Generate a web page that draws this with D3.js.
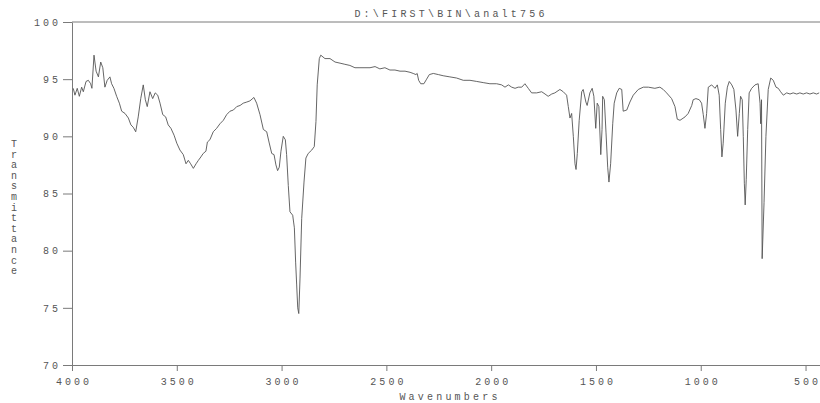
<!DOCTYPE html>
<html>
<head>
<meta charset="utf-8">
<script src="https://cdn.jsdelivr.net/npm/d3@7"></script>
<style>
  body { margin: 0; background: #fff; }
  svg text { font-family: "Liberation Mono", "DejaVu Sans Mono", monospace; fill: #555; }
</style>
</head>
<body>
<div id="wrapper"></div>
<script>
// IR spectrum: wavenumber (cm-1) and % transmittance
const wavenumbers = [
  3994,3986,3975,3965,3954,3946,3933,3922,3911,3905,3895,3885,3874,3863,3853,3843,3832,3819,3811,3800,
  3787,3774,3763,3747,3731,3719,3708,3696,3684,3672,3660,3650,3641,3628,3615,3603,3591,3580,3567,3553,
  3541,3528,3513,3500,3485,3469,3456,3445,3434,3421,3408,3397,3385,3374,3361,3354,
  3342,3326,3310,3294,3278,3262,3246,3230,3214,3198,3183,3166,3151,3132,3119,3103,3087,3071,3060,3047,
  3036,3027,3019,3011,3003,2992,2982,2976,2968,2960,2947,2939,2933,2928,2923,2918,2912,2904,2893,2884,
  2873,2856,2844,2836,2830,2820,2813,2793,2769,2745,2721,2698,2674,
  2650,2626,2602,2578,2554,2531,2507,2483,2459,2435,2411,2387,2372,2359,2353,2346,2336,2321,2308,2295,
  2276,2252,2229,2197,2165,2133,2101,2069,2038,2006,1974,1950,1934,1918,1902,1886,1871,1854,1839,1823,
  1807,1783,1759,1743,1728,1711,1696,1672,1656,1640,
  1632,1624,1616,1608,1600,1595,1589,1580,1568,1561,1548,1542,1529,1518,1510,1501,1494,1486,1477,1471,
  1468,1460,1452,1444,1438,1430,1420,1413,1401,1389,1377,1370,1353,1338,1322,1298,1274,1250,1219,1195,
  1179,1163,1139,1123,1112,1099,1075,1060,1043,1036,1023,1007,
  996,988,980,972,964,948,932,921,912,905,899,893,883,873,864,852,842,832,824,816,
  810,802,797,792,788,783,776,769,757,741,726,717,714,710,707,698,689,678,666,654,
  641,630,619,606,590,574,559,542,527,511,495,479,463,447,435
]
const transmittance = [
  94.2,93.6,94.2,93.5,94.3,93.9,94.8,94.9,94.6,94.2,97.1,95.7,95.2,96.5,96.0,94.3,94.9,95.2,94.6,94.2,
  93.5,92.9,92.2,92.0,91.6,91.0,90.8,90.4,91.7,93.3,94.5,93.2,92.6,93.9,93.3,93.8,93.6,92.9,91.9,91.7,
  91.0,90.7,90.1,89.4,88.8,88.4,87.6,87.9,87.6,87.2,87.6,87.9,88.2,88.5,88.7,89.5,
  89.7,90.4,90.7,91.1,91.4,91.9,92.2,92.3,92.6,92.7,92.9,93.0,93.1,93.4,92.9,91.9,90.6,90.4,89.5,88.5,
  88.4,87.5,87.0,87.3,88.7,90.0,89.7,88.4,85.7,83.4,83.1,82.0,79.0,77.0,75.0,74.5,77.6,82.8,86.0,88.1,
  88.5,88.8,89.1,91.3,94.5,96.8,97.1,96.8,96.8,96.5,96.4,96.3,96.2,
  96.0,96.0,96.0,96.0,96.1,95.9,96.0,95.8,95.8,95.7,95.7,95.6,95.5,95.4,95.5,94.9,94.6,94.6,95.0,95.4,
  95.5,95.4,95.3,95.2,95.1,94.9,94.9,94.8,94.7,94.6,94.6,94.5,94.3,94.5,94.3,94.2,94.3,94.3,94.6,94.2,
  93.8,93.8,93.9,93.7,93.5,93.7,93.8,94.1,93.9,93.6,
  92.6,91.6,92.0,90.0,87.6,87.1,88.5,91.4,93.9,94.1,93.0,92.7,93.8,94.2,93.5,90.7,92.9,92.6,88.4,90.6,
  93.5,93.2,90.3,87.3,86.0,87.6,91.1,92.9,93.8,94.2,94.1,92.2,92.3,93.0,93.6,94.1,94.3,94.3,94.2,94.3,
  94.1,93.8,93.3,92.6,91.5,91.4,91.7,92.0,92.7,93.2,93.3,93.2,
  92.9,91.9,90.7,92.0,94.3,94.5,94.2,94.5,93.6,90.6,88.2,89.4,92.9,94.3,94.8,94.5,94.1,92.3,90.0,92.0,
  93.5,93.2,90.0,85.9,84.0,86.2,90.6,93.8,94.2,94.5,94.6,92.9,91.1,93.2,79.3,84.2,90.0,94.1,95.1,94.9,
  94.3,94.2,93.9,93.6,93.8,93.7,93.8,93.7,93.8,93.7,93.8,93.7,93.8,93.7,93.8
]
const xTicks = [4000, 3500, 3000, 2500, 2000, 1500, 1000, 500]
const yTicks = [70, 75, 80, 85, 90, 95, 100]
const xDomain = [4000, 431]
const yDomain = [70, 100]
const titleText = 'D:\\FIRST\\BIN\\analt756'
const xLabel = 'Wavenumbers'
const yLabel = 'Transmittance'

const spectrum = d3.zip(wavenumbers, transmittance)
const xAcc = d => d[0]
const yAcc = d => d[1]

let dimensions = {
    width: 820,
    height: 403,
    margin: { top: 22, right: 0, bottom: 38, left: 72 }
}
dimensions.boundedWidth = dimensions.width - dimensions.margin.left - dimensions.margin.right
dimensions.boundedHeight = dimensions.height - dimensions.margin.top - dimensions.margin.bottom

const svg = d3.select('#wrapper').append('svg')
    .attr('width', dimensions.width)
    .attr('height', dimensions.height)

const bounds = svg.append('g')
    .attr('transform', `translate(${dimensions.margin.left},${dimensions.margin.top})`)

const xScale = d3.scaleLinear().domain(xDomain).range([0, dimensions.boundedWidth])
const yScale = d3.scaleLinear().domain(yDomain).range([dimensions.boundedHeight, 0])

const axisColor = '#7a7a7a'

// top frame line
bounds.append('line')
    .attr('x1', 0).attr('x2', dimensions.boundedWidth)
    .attr('y1', 0).attr('y2', 0)
    .attr('stroke', axisColor).attr('stroke-width', 1)

const xAxis = d3.axisBottom(xScale).tickValues(xTicks).tickFormat(d3.format('d'))
    .tickSize(6).tickSizeOuter(0).tickPadding(7)
const yAxis = d3.axisLeft(yScale).tickValues(yTicks).tickFormat(d3.format('d'))
    .tickSize(9).tickSizeOuter(0).tickPadding(2)

const xG = bounds.append('g')
    .attr('transform', `translate(0,${dimensions.boundedHeight})`)
    .call(xAxis)
const yG = bounds.append('g').call(yAxis)

for (const g of [xG, yG]) {
    g.select('.domain').attr('stroke', axisColor)
    g.selectAll('.tick line').attr('stroke', axisColor)
    g.selectAll('.tick text')
        .style('font-family', '"Liberation Mono", monospace')
        .attr('font-size', 10)
        .attr('letter-spacing', 3)
        .attr('fill', '#666')
}
xG.selectAll('.tick text').attr('dx', 1.5)

const line = d3.line()
    .x(d => xScale(xAcc(d)))
    .y(d => yScale(yAcc(d)))

bounds.append('path')
    .datum(spectrum)
    .attr('d', line)
    .attr('fill', 'none')
    .attr('stroke', '#555')
    .attr('stroke-width', 0.9)
    .attr('stroke-linejoin', 'round')

// title
svg.append('text')
    .attr('x', 451)
    .attr('y', 17)
    .attr('text-anchor', 'middle')
    .attr('font-size', 10)
    .attr('letter-spacing', 3.2)
    .attr('fill', '#444')
    .text(titleText)

// x label
svg.append('text')
    .attr('x', 450)
    .attr('y', 400)
    .attr('text-anchor', 'middle')
    .attr('font-size', 10)
    .attr('letter-spacing', 3.2)
    .attr('fill', '#555')
    .text(xLabel)

// y label, letters stacked upright
svg.append('text')
    .attr('font-size', 10)
    .attr('text-anchor', 'middle')
    .attr('fill', '#555')
    .selectAll('tspan')
    .data(yLabel.split(''))
    .enter()
    .append('tspan')
    .attr('x', 14)
    .attr('y', (d, i) => 147 + i * 10.6)
    .text(d => d)
</script>
</body>
</html>
